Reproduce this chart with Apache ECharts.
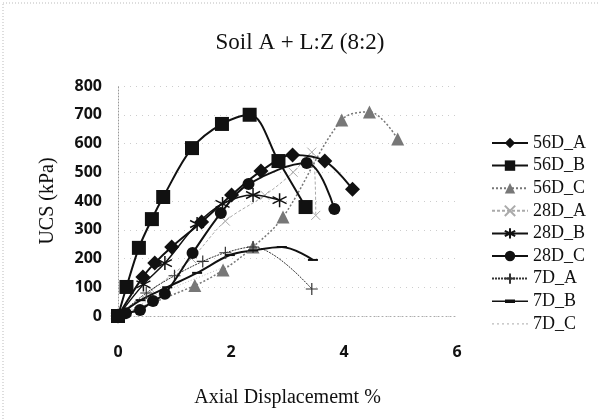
<!DOCTYPE html>
<html>
<head>
<meta charset="utf-8">
<script src="https://cdn.jsdelivr.net/npm/echarts@6/dist/echarts.min.js"></script>
<style>
html, body { margin: 0; padding: 0; background: #fff; }
#soilChart { width: 600px; height: 419px; }
</style>
</head>
<body>
<div id="soilChart"></div>
<script>
// values (x = axial displacement %, y = UCS kPa)
var xTicks = [0, 2, 4, 6];
var yTicks = [0, 100, 200, 300, 400, 500, 600, 700, 800];
var names = ['56D_A', '56D_B', '56D_C', '28D_A', '28D_B', '28D_C', '7D_A', '7D_B', '7D_C'];

var x56A = [0, 0.44, 0.65, 0.95, 1.48, 2.01, 2.53, 3.09, 3.66, 4.15];
var y56A = [0, 136, 184, 240, 327, 421, 504, 560, 539, 441];

var x56B = [0, 0.15, 0.37, 0.60, 0.80, 1.31, 1.84, 2.33, 2.84, 3.32];
var y56B = [0, 101, 237, 337, 414, 584, 668, 700, 539, 379];

var x56C = [0, 1.36, 1.86, 2.39, 2.92, 3.96, 4.45, 4.95];
var y56C = [0, 106, 160, 240, 344, 682, 710, 616];

var x28A = [0, 0.6, 1.3, 1.9, 2.6, 3.1, 3.43, 3.5];
var y28A = [0, 90, 200, 330, 420, 500, 570, 350];

var x28B = [0, 0.45, 0.83, 1.40, 1.85, 2.39, 2.86];
var y28B = [0, 110, 184, 320, 390, 421, 403];

var x28C = [0, 0.14, 0.39, 0.62, 0.83, 1.32, 1.82, 2.31, 3.34, 3.83];
var y28C = [0, 10, 21, 52, 77, 219, 358, 459, 532, 372];

var x7A = [0, 0.5, 1.0, 1.5, 1.9, 2.39, 3.43];
var y7A = [0, 80, 140, 190, 220, 240, 94];

var x7B = [0, 0.4, 0.87, 1.4, 1.98, 2.39, 2.9, 3.45];
var y7B = [0, 55, 100, 150, 212, 228, 240, 195];

var x7C = [0, 0.5, 1.0, 1.5, 2.0];
var y7C = [0, 50, 100, 140, 180];

function pairs(xs, ys) {
  return xs.map(function (v, i) { return [v, ys[i]]; });
}

var serif = '"Liberation Serif", "DejaVu Serif", serif';
var sans = '"Noto Sans", "Liberation Sans", sans-serif';

var asterisk = 'path://M0,-10L0,10M-8.66,-5L8.66,5M-8.66,5L8.66,-5';
var plus = 'path://M0,-10L0,10M-10,0L10,0';
var cross = 'path://M-8,-8L8,8M-8,8L8,-8';
var dash = 'path://M-10,-2L10,-2L10,2L-10,2Z';
// legend icons drawn by hand (the first two moves only set the icon box)
var dashIcon = 'path://M0,0M36,13M0,5.8h36v1.6h-36zM13,4.8h10v3.6h-10z';
var dotted = 'path://M0,0M36,13M0,6h2v1.2h-2zM5,6h2v1.2h-2zM10,6h2v1.2h-2zM15,6h2v1.2h-2zM20,6h2v1.2h-2zM25,6h2v1.2h-2zM30,6h2v1.2h-2zM34,6h2v1.2h-2z';

function line(name, xs, ys, opt) {
  return {
    name: name,
    type: 'line',
    data: pairs(xs, ys),
    smooth: 0.35,
    symbol: opt.symbol,
    symbolSize: opt.size,
    symbolKeepAspect: !!opt.keep,
    showAllSymbol: true,
    lineStyle: { color: opt.color, width: opt.width, type: opt.type || 'solid' },
    itemStyle: {
      color: opt.fill || opt.color,
      borderColor: opt.color,
      borderWidth: opt.border || 0
    },
    emphasis: { disabled: true },
    z: opt.z || 2
  };
}

var legendData = names.map(function (n) {
  if (n === '7D_C') return { name: n, icon: dotted };
  if (n === '7D_B') return { name: n, icon: dashIcon };
  return { name: n };
});

var chart = echarts.init(document.getElementById('soilChart'));
chart.setOption({
  animation: false,
  backgroundColor: '#fff',
  title: {
    text: 'Soil A + L:Z (8:2)',
    left: 295,
    textAlign: 'center',
    top: 26,
    textStyle: { fontFamily: serif, fontSize: 23, fontWeight: 'normal', color: '#111' }
  },
  graphic: [{
    type: 'rect',
    shape: { x: 3, y: 3, width: 620, height: 440 },
    style: { fill: 'none', stroke: '#bbb', lineWidth: 1, lineDash: [1, 2] },
    silent: true
  }],
  legend: {
    data: legendData,
    orient: 'vertical',
    left: 486,
    top: 129,
    itemWidth: 36,
    itemHeight: 13,
    itemGap: 4.6,
    selectedMode: false,
    textStyle: { fontFamily: serif, fontSize: 18, color: '#111' }
  },
  grid: { left: 118, right: 143, top: 86, bottom: 103 },
  xAxis: {
    type: 'value',
    min: 0, max: 6, interval: 2,
    name: 'Axial Displacememt %',
    nameLocation: 'middle',
    nameGap: 72,
    nameTextStyle: { fontFamily: serif, fontSize: 20, color: '#111' },
    axisLine: { show: true, onZero: false, lineStyle: { color: '#aaa', type: [1, 3] } },
    axisTick: { show: false },
    splitLine: { show: false },
    axisLabel: { fontFamily: sans, fontSize: 16, fontWeight: 'bold', color: '#111', margin: 28 }
  },
  yAxis: {
    type: 'value',
    min: 0, max: 800, interval: 100,
    name: 'UCS (kPa)',
    nameLocation: 'middle',
    nameGap: 60,
    nameTextStyle: { fontFamily: serif, fontSize: 20, color: '#111' },
    axisLine: { show: true, lineStyle: { color: '#999', type: [1, 2] } },
    axisTick: { show: false },
    splitLine: { show: true, lineStyle: { color: '#ccc', type: [1, 5] } },
    axisLabel: { fontFamily: sans, fontSize: 16, fontWeight: 'bold', color: '#111', margin: 16 }
  },
  series: [
    line('56D_A', x56A, y56A, { symbol: 'diamond', size: 15, color: '#111', width: 2, z: 5 }),
    line('56D_B', x56B, y56B, { symbol: 'rect', size: 14, color: '#111', width: 2, z: 6 }),
    line('56D_C', x56C, y56C, { symbol: 'triangle', size: 13, color: '#777', width: 1.5, type: [2, 2], z: 3 }),
    line('28D_A', x28A, y28A, { symbol: cross, size: 9, color: '#aaa', width: 1, type: [3, 2], fill: 'none', border: 1, z: 2 }),
    line('28D_B', x28B, y28B, { symbol: asterisk, size: 14, color: '#111', width: 1.5, fill: 'none', border: 1.5, z: 4 }),
    line('28D_C', x28C, y28C, { symbol: 'circle', size: 12, color: '#111', width: 2, z: 4 }),
    line('7D_A', x7A, y7A, { symbol: plus, size: 12, color: '#333', width: 1, type: [2, 1], fill: 'none', border: 1.2, z: 3 }),
    line('7D_B', x7B, y7B, { symbol: dash, size: 10, keep: true, color: '#111', width: 2, z: 3 }),
    line('7D_C', x7C, y7C, { symbol: 'none', size: 0, color: '#bbb', width: 1, type: [1, 2], z: 1 })
  ]
});
</script>
</body>
</html>
